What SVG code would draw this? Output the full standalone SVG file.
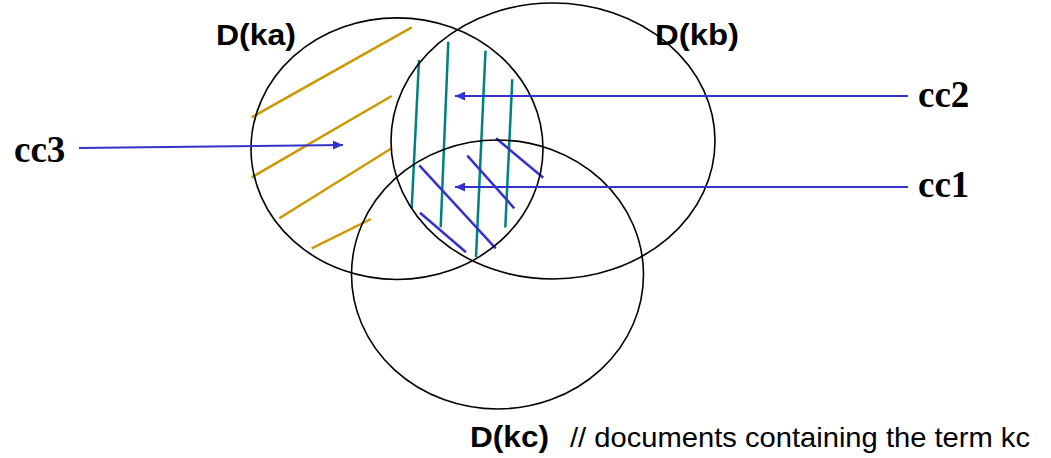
<svg xmlns="http://www.w3.org/2000/svg" width="1051" height="458" viewBox="0 0 1051 458">
<defs>
<marker id="ah" markerWidth="10" markerHeight="9" refX="10" refY="4.5" orient="auto" markerUnits="userSpaceOnUse">
<path d="M0,0 L10,4.5 L0,9 Z" fill="#3333CC"/>
</marker>
<style>
.set{fill:none;stroke:#000;stroke-width:1.6}
.gold{stroke:#CC9900;stroke-width:2.5}
.teal{stroke:#008080;stroke-width:2.5}
.blue{stroke:#3333CC;stroke-width:2.5}
.arr{stroke:#3333CC;stroke-width:2;fill:none;marker-end:url(#ah)}
.lab{font-family:"Liberation Sans",Arial,sans-serif;font-weight:bold;fill:#000}
.cc{font-family:"Liberation Serif","Times New Roman",serif;font-weight:bold;fill:#000}
.note{font-family:"Liberation Sans",Arial,sans-serif;fill:#000}
</style>
</defs>
<rect width="1051" height="458" fill="#fff"/>
<g id="hatch">
<line class="gold" x1="251.7" y1="117.3" x2="411.7" y2="27.3"/>
<line class="gold" x1="251.7" y1="177.3" x2="391.7" y2="96"/>
<line class="gold" x1="279.3" y1="218.3" x2="391.7" y2="148.3"/>
<line class="gold" x1="311.7" y1="248.3" x2="371" y2="219"/>
<line class="teal" x1="419" y1="60" x2="411.7" y2="208.3"/>
<line class="teal" x1="448.3" y1="41.7" x2="440.7" y2="227.3"/>
<line class="teal" x1="485.5" y1="50.7" x2="476" y2="257"/>
<line class="teal" x1="512.3" y1="79.3" x2="505.3" y2="227.5"/>
<line class="blue" x1="419.3" y1="165.3" x2="495.7" y2="248.3"/>
<line class="blue" x1="420" y1="212.7" x2="466" y2="252.3"/>
<line class="blue" x1="467.3" y1="155.7" x2="514.3" y2="208.3"/>
<line class="blue" x1="496" y1="138.3" x2="543.3" y2="177.7"/>
</g>
<g id="ka">
<ellipse class="set" cx="397" cy="148.7" rx="146" ry="130.8"/>
<text class="lab" x="216" y="45" font-size="30" textLength="80" lengthAdjust="spacingAndGlyphs">D(ka)</text>
</g>
<g id="kb">
<ellipse class="set" cx="553" cy="141" rx="162" ry="138"/>
<text class="lab" x="655" y="45" font-size="30" textLength="84" lengthAdjust="spacingAndGlyphs">D(kb)</text>
</g>
<g id="kc">
<ellipse class="set" cx="497.5" cy="274.5" rx="146" ry="134.5"/>
<text class="lab" x="470" y="447" font-size="29" textLength="79" lengthAdjust="spacingAndGlyphs">D(kc)</text>
<text class="note" x="570" y="447" font-size="28" textLength="460" lengthAdjust="spacingAndGlyphs">// documents containing the term kc</text>
</g>
<g id="cc3">
<text class="cc" x="14" y="162" font-size="37">cc3</text>
</g>
<g id="cc2">
<text class="cc" x="918" y="107" font-size="37">cc2</text>
</g>
<g id="cc1">
<text class="cc" x="918" y="197" font-size="37">cc1</text>
</g>
<g id="connectors">
<line class="arr" x1="79" y1="148" x2="343" y2="145"/>
<line class="arr" x1="908" y1="96" x2="455" y2="96"/>
<line class="arr" x1="908" y1="187" x2="455" y2="187"/>
</g>
</svg>
